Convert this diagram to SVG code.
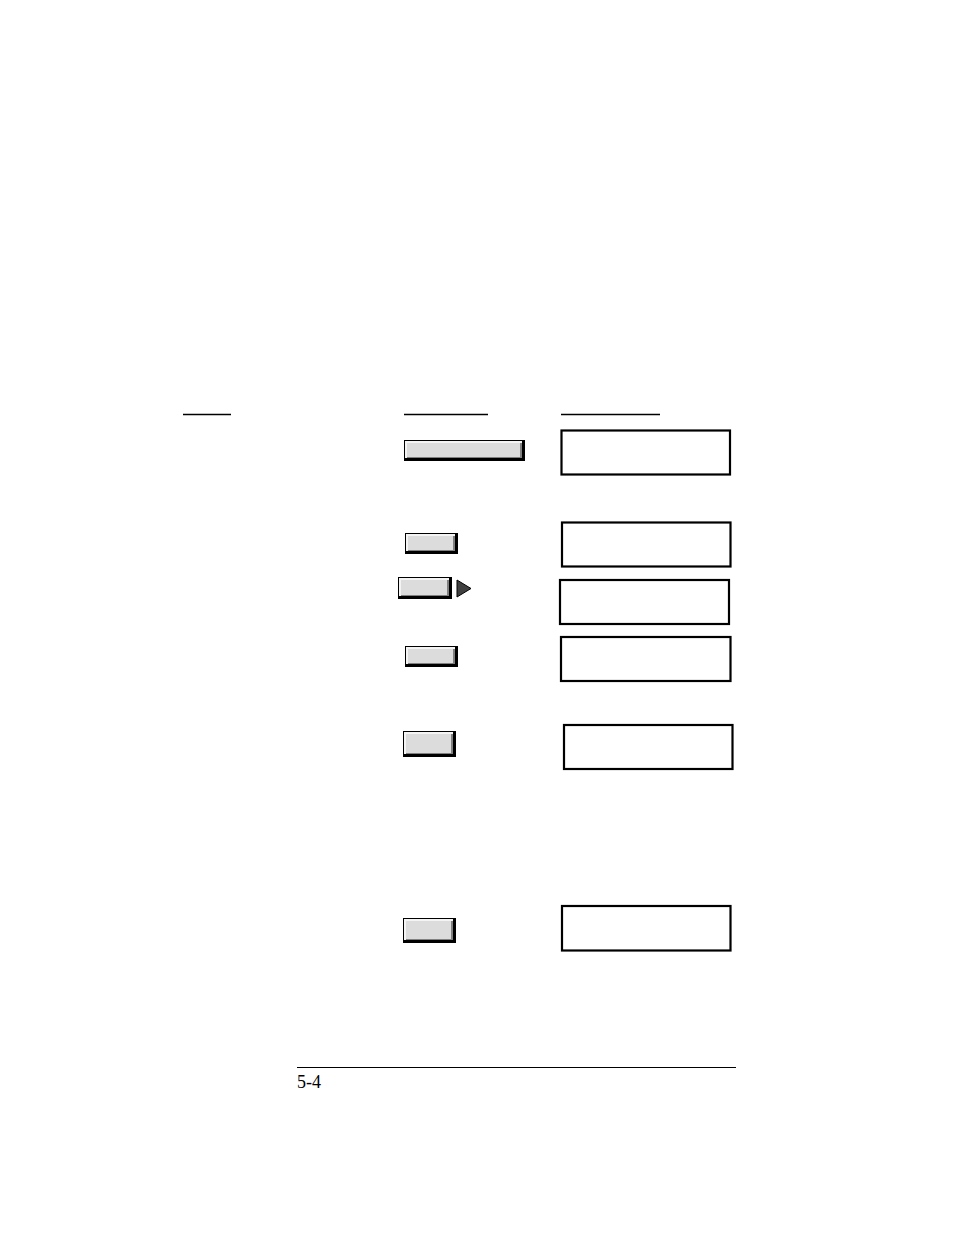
<svg xmlns="http://www.w3.org/2000/svg" width="954" height="1235" viewBox="0 0 954 1235">
<style>
.ul{stroke:#000;stroke-width:1.5}
.lcd{fill:#fff;stroke:#000;stroke-width:2.2}
.bo{fill:#000}
.bh{fill:#f4f4f4}
.bs{fill:#808080}
.bf{fill:#dcdcdc}
</style>
<rect width="954" height="1235" fill="#fff"/>
<g id="headers">
<line class="ul" x1="183" y1="414.5" x2="231" y2="414.5"/>
<line class="ul" x1="404" y1="414.5" x2="488" y2="414.5"/>
<line class="ul" x1="561" y1="414.5" x2="660" y2="414.5"/>
</g>
<g id="button1">
<rect class="bo" x="404" y="440" width="121" height="21"/>
<rect class="bh" x="405" y="441" width="117" height="17"/>
<rect class="bs" x="407" y="443" width="115" height="15"/>
<rect class="bf" x="407" y="443" width="113" height="14"/>
</g>
<g id="button2">
<rect class="bo" x="405" y="533" width="53" height="21"/>
<rect class="bh" x="406" y="534" width="49" height="17"/>
<rect class="bs" x="408" y="536" width="47" height="15"/>
<rect class="bf" x="408" y="536" width="45" height="14"/>
</g>
<g id="button3">
<rect class="bo" x="398" y="577" width="54" height="22"/>
<rect class="bh" x="399" y="578" width="50" height="18"/>
<rect class="bs" x="401" y="580" width="48" height="16"/>
<rect class="bf" x="401" y="580" width="46" height="15"/>
<polygon points="457,580 471,588.5 457,597" fill="#404040" stroke="#000" stroke-width="1"/>
</g>
<g id="button4">
<rect class="bo" x="405" y="646" width="53" height="21"/>
<rect class="bh" x="406" y="647" width="49" height="17"/>
<rect class="bs" x="408" y="649" width="47" height="15"/>
<rect class="bf" x="408" y="649" width="45" height="14"/>
</g>
<g id="button5">
<rect class="bo" x="403" y="731" width="53" height="26"/>
<rect class="bh" x="404" y="732" width="49" height="22"/>
<rect class="bs" x="406" y="734" width="47" height="20"/>
<rect class="bf" x="406" y="734" width="45" height="19"/>
</g>
<g id="button6">
<rect class="bo" x="403" y="918" width="53" height="25"/>
<rect class="bh" x="404" y="919" width="49" height="21"/>
<rect class="bs" x="406" y="921" width="47" height="19"/>
<rect class="bf" x="406" y="921" width="45" height="18"/>
</g>
<g id="display1"><rect class="lcd" x="561.5" y="430.5" width="168.5" height="44"/></g>
<g id="display2"><rect class="lcd" x="562" y="522.5" width="168.5" height="44"/></g>
<g id="display3"><rect class="lcd" x="560" y="580" width="169" height="44"/></g>
<g id="display4"><rect class="lcd" x="561" y="637" width="169.5" height="44"/></g>
<g id="display5"><rect class="lcd" x="564" y="725" width="168.5" height="44"/></g>
<g id="display6"><rect class="lcd" x="562" y="906" width="168.5" height="44.5"/></g>
<g id="connectors"></g>
<g id="footer">
<line x1="297" y1="1067.5" x2="736" y2="1067.5" stroke="#000" stroke-width="1.2"/>
<text x="297" y="1088" style="font-family:Liberation Serif, DejaVu Serif, serif;font-size:18px" fill="#000">5-4</text>
</g>
</svg>
